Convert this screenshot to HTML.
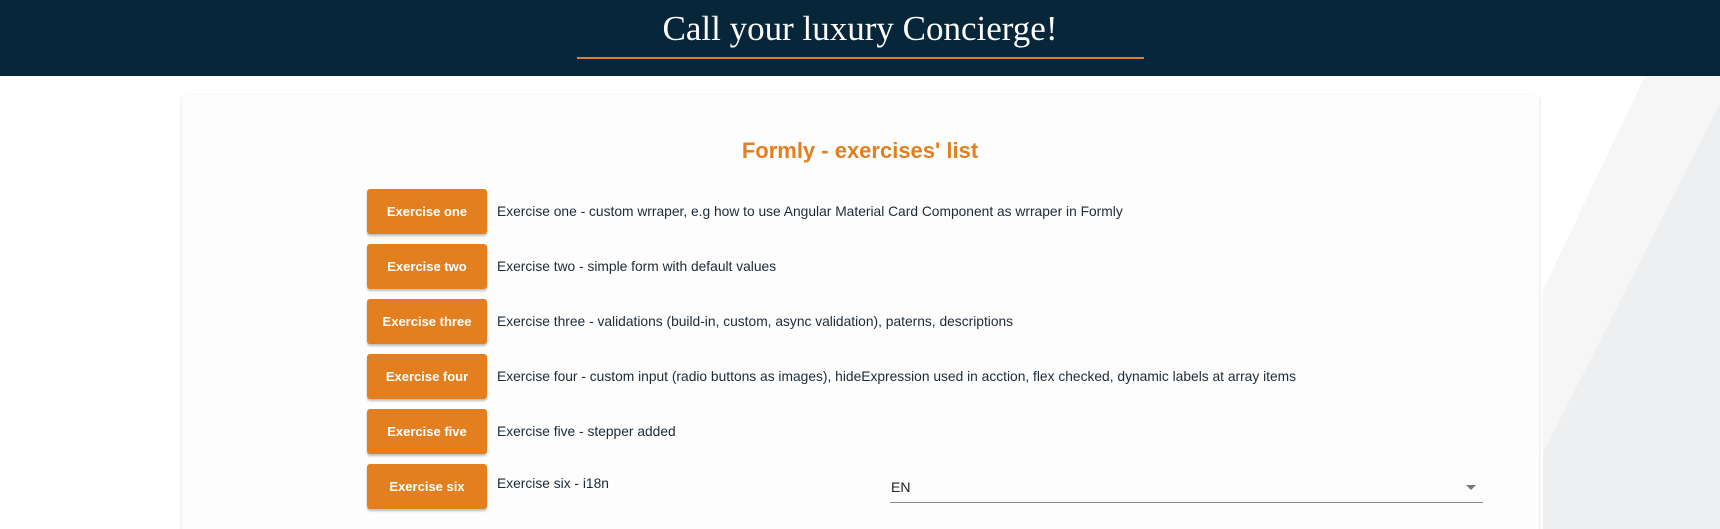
<!DOCTYPE html>
<html><head><meta charset="utf-8"><style>
html,body{margin:0;padding:0;width:1720px;height:529px;overflow:hidden;background:#fff;font-family:"Liberation Sans",Arial,sans-serif;position:relative}
.bg{position:absolute;left:0;top:0}
header{position:absolute;left:0;top:0;width:1720px;height:76px;background:#07263a}
header h1{margin:0;position:absolute;left:0;width:1720px;top:8px;text-align:center;color:#fff;font-family:"Liberation Serif",serif;font-weight:normal;font-size:35px;line-height:42px}
header .line{position:absolute;left:577px;top:57px;width:567px;height:2px;background:#e37f1f}
.card{position:absolute;left:182px;top:95px;width:1357px;height:450px;background:#fdfdfd;border-radius:3px;box-shadow:0 1px 3px rgba(0,0,0,.15)}
.title{position:absolute;left:0;width:1720px;top:137px;text-align:center;color:#e37f1f;font-size:22px;font-weight:bold;line-height:28px}
.row{position:absolute;left:367px;height:45px}
.btn{position:absolute;left:0;top:0;width:120px;height:45px;background:#e37f1f;color:#fff;font-weight:bold;font-size:13px;line-height:45px;text-align:center;border-radius:3px;box-shadow:0 2px 2px rgba(0,0,0,.25)}
.desc{position:absolute;left:130px;top:0;line-height:45px;font-size:13.8px;color:#1d2a35;white-space:nowrap}
.sel{position:absolute;left:890px;top:468px;width:593px;height:34px;border-bottom:1px solid #8a8a8a}
.sel span{position:absolute;left:1px;top:11px;font-size:14px;color:#222}
.sel i{position:absolute;right:7px;top:17px;width:0;height:0;border-left:5px solid transparent;border-right:5px solid transparent;border-top:5px solid #777}
</style></head><body>
<svg class="bg" width="1720" height="529">
<polygon points="1645,76 1720,76 1720,103 1543,453 1543,290" fill="#f6f6f7"/>
<polygon points="1720,103 1720,529 1543,529 1543,453" fill="#eeeff1"/>
</svg>
<header>
<h1>Call your luxury Concierge!</h1>
<div class="line"></div>
</header>
<div class="card"></div>
<div class="title">Formly - exercises' list</div>
<div class="row" style="top:189px"><div class="btn">Exercise one</div><div class="desc">Exercise one - custom wrraper, e.g how to use Angular Material Card Component as wrraper in Formly</div></div>
<div class="row" style="top:244px"><div class="btn">Exercise two</div><div class="desc">Exercise two - simple form with default values</div></div>
<div class="row" style="top:299px"><div class="btn">Exercise three</div><div class="desc">Exercise three - validations (build-in, custom, async validation), paterns, descriptions</div></div>
<div class="row" style="top:354px"><div class="btn">Exercise four</div><div class="desc">Exercise four - custom input (radio buttons as images), hideExpression used in acction, flex checked, dynamic labels at array items</div></div>
<div class="row" style="top:409px"><div class="btn">Exercise five</div><div class="desc">Exercise five - stepper added</div></div>
<div class="row" style="top:464px"><div class="btn">Exercise six</div><div class="desc" style="line-height:40px">Exercise six - i18n</div></div>
<div class="sel"><span>EN</span><i></i></div>
</body></html>
